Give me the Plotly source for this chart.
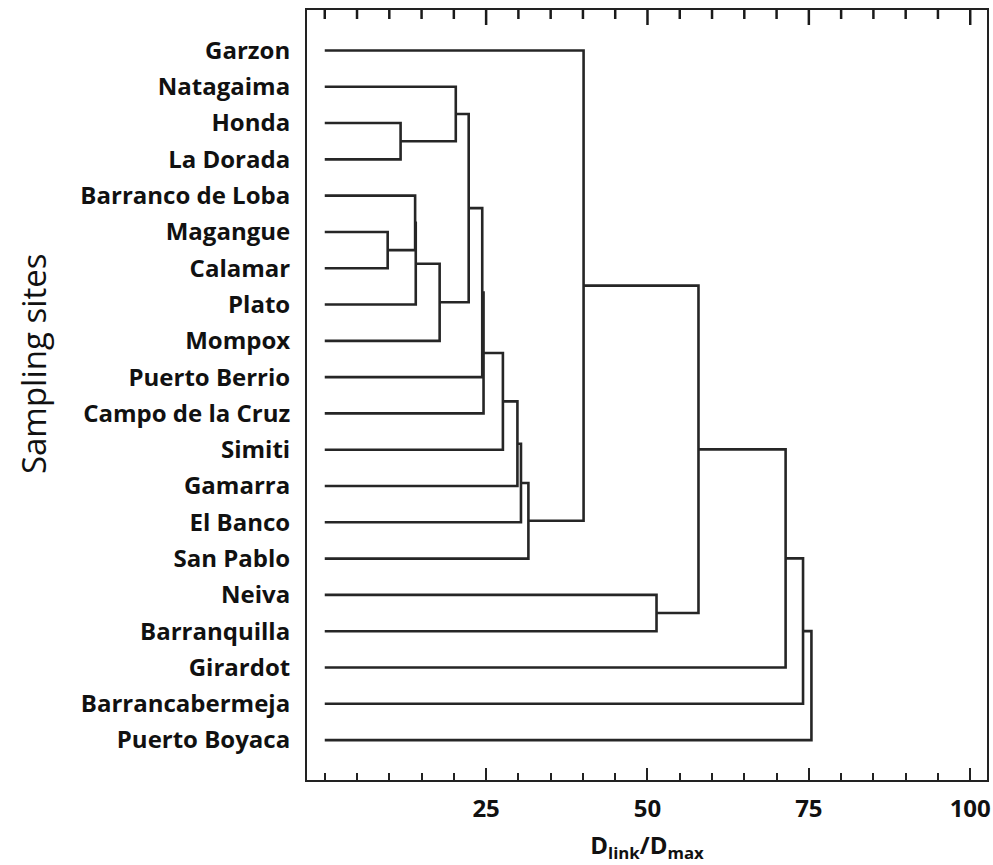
import plotly.graph_objects as go

# Leaf labels (top to bottom)
sites = ["Garzon", "Natagaima", "Honda", "La Dorada", "Barranco de Loba",
         "Magangue", "Calamar", "Plato", "Mompox", "Puerto Berrio",
         "Campo de la Cruz", "Simiti", "Gamarra", "El Banco", "San Pablo",
         "Neiva", "Barranquilla", "Girardot", "Barrancabermeja", "Puerto Boyaca"]

# Linkage: children (leaf index < 20, otherwise cluster 20+k) and linkage distance
left_child  = [5, 2, 4, 22, 23, 1, 25, 26, 27, 28, 29, 30, 31, 0, 15, 33, 35, 36, 37]
right_child = [6, 3, 20, 7, 8, 21, 24, 9, 10, 11, 12, 13, 14, 32, 16, 34, 17, 18, 19]
link_dist   = [9.75, 11.75, 14.0, 14.1, 17.8, 20.3, 22.3, 24.4, 24.6, 27.6,
               29.85, 30.4, 31.55, 40.1, 51.4, 57.9, 71.4, 74.1, 75.4]

x_ticks = [25, 50, 75, 100]
minor_step = 5

n = len(sites)
pos = {i: (0.0, float(i)) for i in range(n)}
xs, ys = [], []
for k, (a, b, h) in enumerate(zip(left_child, right_child, link_dist)):
    xa, ya = pos[a]
    xb, yb = pos[b]
    xs += [xa, h, h, xb, None]
    ys += [ya, ya, yb, yb, None]
    pos[n + k] = (h, (ya + yb) / 2)

FAM = "Open Sans"
W, H = 993, 865
M = dict(l=307, r=2, t=10, b=85)
y_range = [20.1, -1.115]
px_per_leaf = (H - M["t"] - M["b"]) / (y_range[0] - y_range[1])

top_ticks = list(range(0, int(max(x_ticks)) + 1, minor_step))

fig = go.Figure()
fig.add_trace(go.Scatter(x=xs, y=ys, mode="lines",
                         line=dict(color="#262626", width=2.6),
                         hoverinfo="skip", showlegend=False))

font_bold = dict(family=FAM, size=24, color="#111")
xr = [-2.75, 102.6]

fig.update_layout(
    width=W, height=H, margin=M,
    paper_bgcolor="white", plot_bgcolor="white",
    font=dict(family=FAM, color="#111"),
    xaxis=dict(range=xr, tickvals=x_ticks,
               ticktext=[f"<b>{v}</b>" for v in x_ticks],
               tickfont=font_bold, ticklabelstandoff=6,
               ticks="inside", ticklen=12, tickwidth=2, tickcolor="#222",
               minor=dict(tick0=0, dtick=minor_step, ticks="inside", ticklen=7,
                          tickwidth=2, tickcolor="#222", showgrid=False),
               showgrid=False, zeroline=False,
               showline=True, linewidth=2, linecolor="#222", mirror=True,
               title=dict(text="<b>D<sub>link</sub>/D<sub>max</sub></b>",
                          font=dict(family=FAM, size=24, color="#111"),
                          standoff=14)),
    yaxis=dict(range=y_range, tickvals=list(range(n)),
               ticktext=[f"<b>{s}</b>" for s in sites],
               tickfont=font_bold, ticks="", ticklabelstandoff=10,
               showline=True, linewidth=2, linecolor="#222", mirror=True,
               showgrid=False, zeroline=False),
)

# mirrored tick marks along the top frame (data-referenced shapes)
for v in top_ticks:
    ln = 15 if v in x_ticks else 9
    fig.add_shape(type="line", xref="x", yref="y", layer="above",
                  x0=v, x1=v, y0=y_range[1], y1=y_range[1] + ln / px_per_leaf,
                  line=dict(color="#1a1a1a", width=2.5))

fig.add_annotation(text="Sampling sites", xref="paper", yref="paper",
                   x=-0.402, y=0.541, xanchor="center", yanchor="middle",
                   textangle=-90, showarrow=False,
                   font=dict(family=FAM, size=33, color="#111"))

fig.write_html("out.html")
